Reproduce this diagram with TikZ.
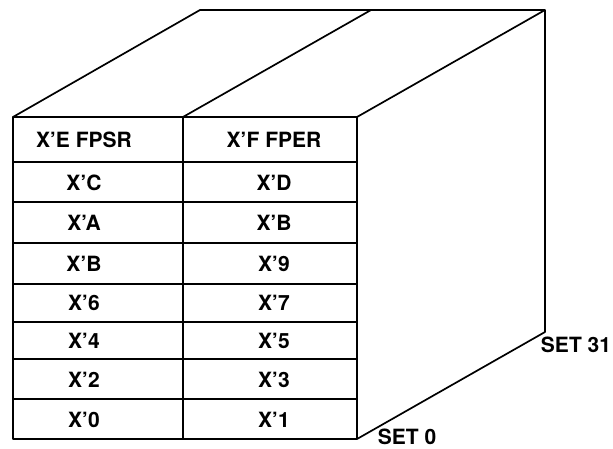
\documentclass[tikz,border=0pt]{standalone}
\usepackage{fontspec}
\setmainfont{TeX Gyre Heros}
\tikzset{
  edge/.style={line width=1.7pt, line join=round},
  regtext/.style={font=\bfseries\fontsize{21}{23}\selectfont, inner sep=0pt},
}
\begin{document}
\begin{tikzpicture}[x=1pt, y=-1pt]
  \useasboundingbox (0,0) rectangle (613,448);
  % front face
  \draw[edge] (13,117) rectangle (357,439);
  \draw[edge] (183,117) -- (183,439);
  \foreach \y in {162,202,243,284,322,359,399}
    \draw[edge] (13,\y) -- (357,\y);
  % top and side
  \draw[edge] (13,117) -- (200,10) -- (545,10) -- (545,332) -- (357,439);
  \draw[edge] (183,117) -- (371,10);
  \draw[edge] (357,117) -- (545,10);
  % register names
  \foreach \l/\r/\y [count=\i] in {E FPSR/F FPER/140, C/D/183, A/B/223, B/9/264,
                                   6/7/303, 4/5/341, 2/3/380, 0/1/420}{
    \node[regtext] (left\i) at (84,\y) {X'\l};
    \node[regtext] (right\i) at (274,\y) {X'\r};
  }
  % set labels
  \node[regtext] (set31) at (576,345) {SET 31};
  \node[regtext] (set0) at (407,437) {SET 0};
\end{tikzpicture}
\end{document}
